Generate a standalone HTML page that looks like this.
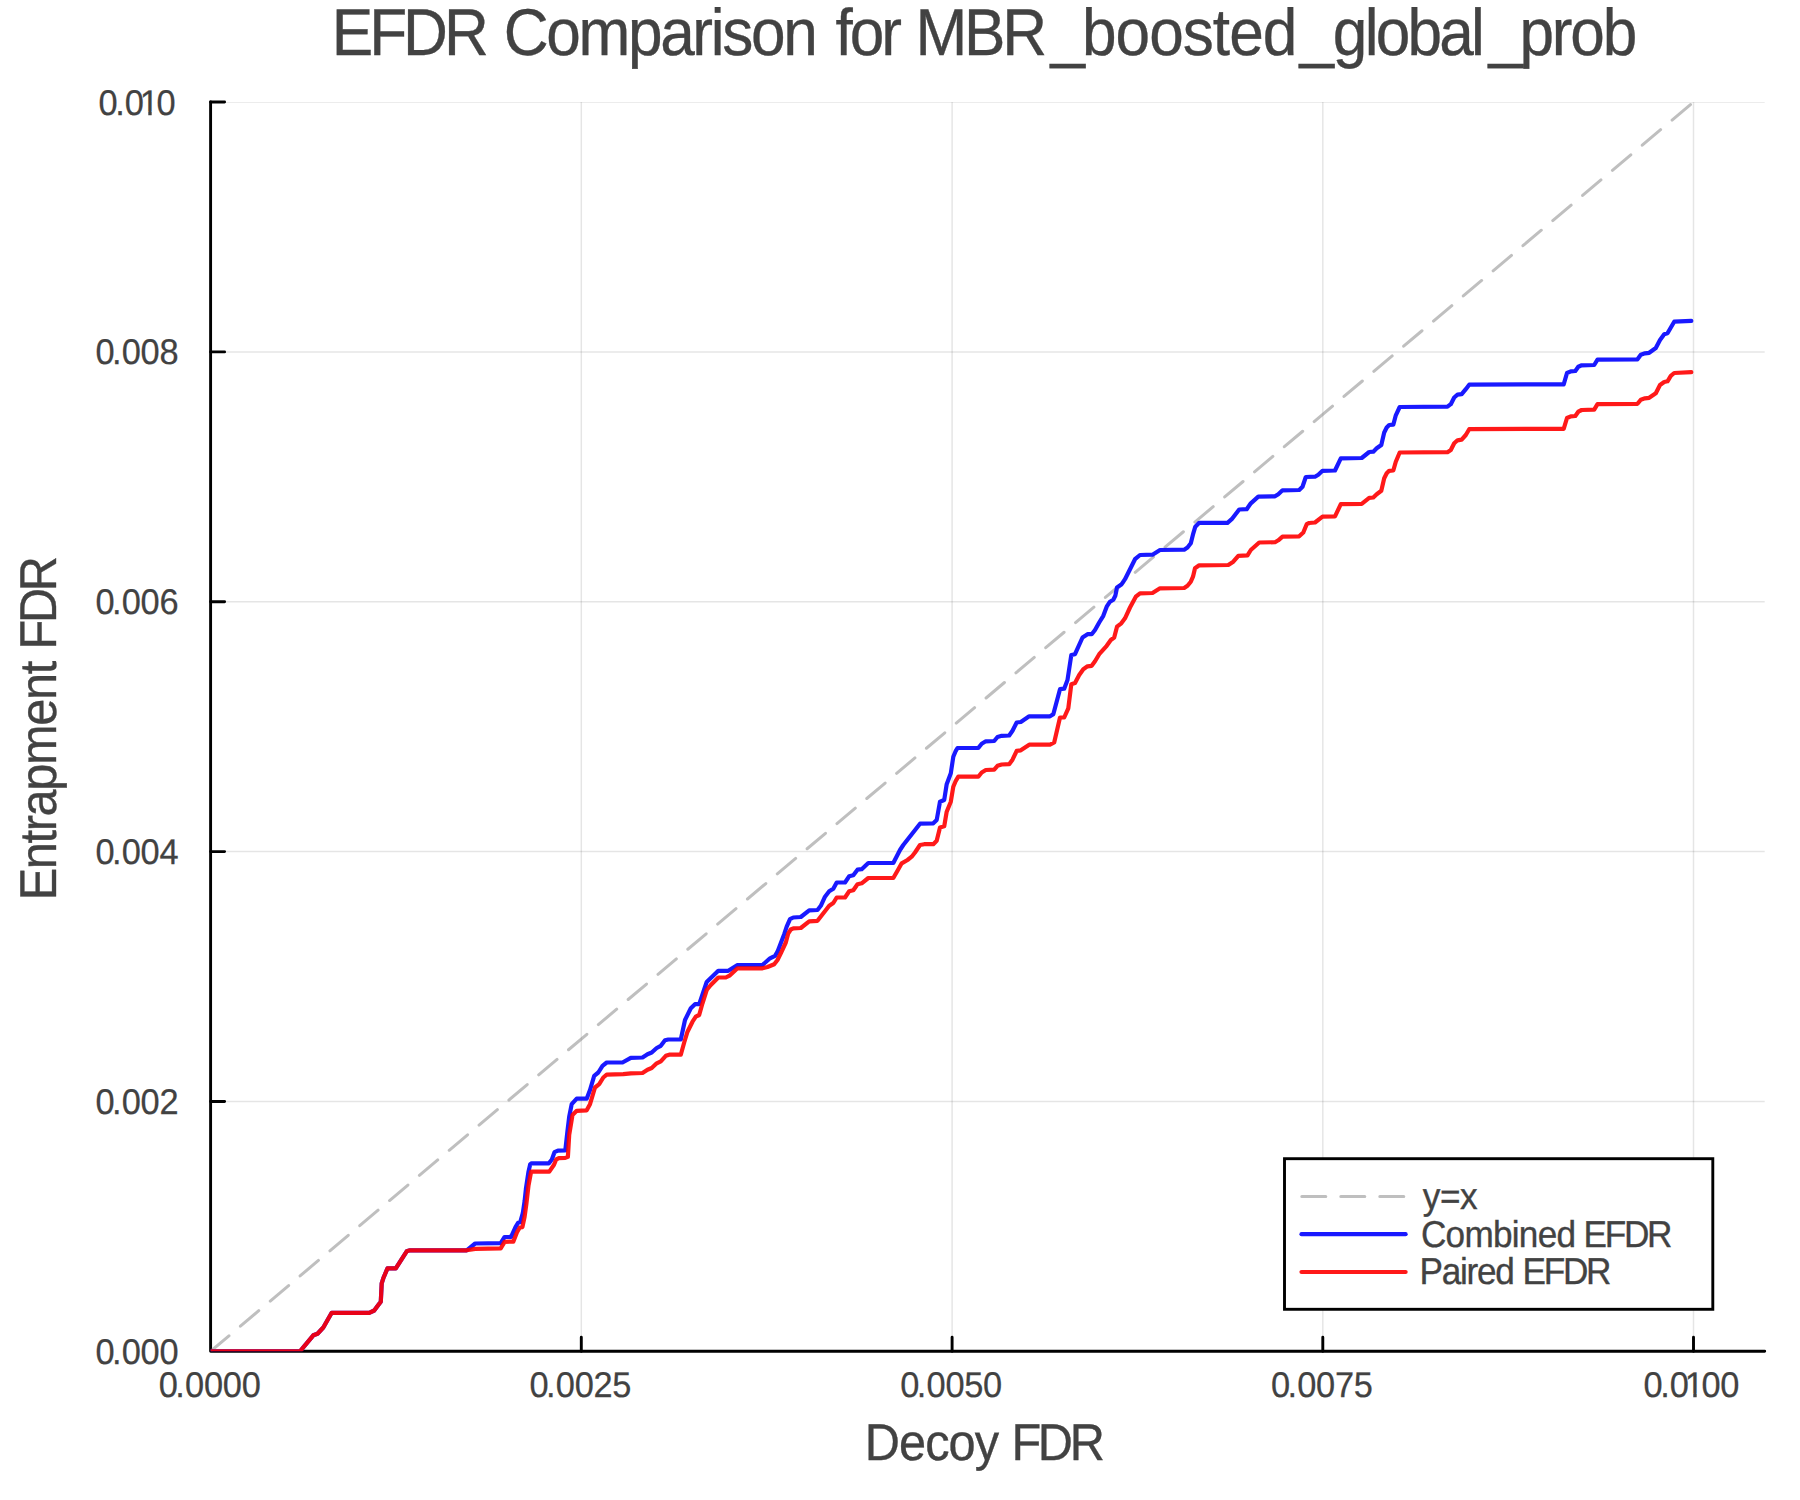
<!DOCTYPE html>
<html><head><meta charset="utf-8"><title>EFDR Comparison</title>
<style>html,body{margin:0;padding:0;background:#fff}svg{display:block}text{font-family:"Liberation Sans",sans-serif;fill:#424242;text-rendering:geometricPrecision}</style></head>
<body>
<svg width="1800" height="1500" viewBox="0 0 1800 1500">
<rect width="1800" height="1500" fill="#fff"/>
<defs><clipPath id="c"><rect x="210.6" y="102.0" width="1554.1" height="1249.2"/></clipPath></defs>
<path d="M210.6,1351.3 H1764.7 M210.6,1351.3 V102.0" stroke="#000" stroke-width="2.9" fill="none" stroke-linecap="round"/>
<g clip-path="url(#c)" fill="none" stroke-linejoin="round">
<path d="M581.3,97.0 V1351.3 M952.1,97.0 V1351.3 M1322.8,97.0 V1351.3 M1693.5,97.0 V1351.3" stroke="#000" stroke-opacity="0.1" stroke-width="1.5"/>
<path d="M210.6,1101.5 H1769.7 M210.6,851.6 H1769.7 M210.6,601.8 H1769.7 M210.6,351.9 H1769.7 M210.6,102.0 H1769.7" stroke="#000" stroke-opacity="0.1" stroke-width="1.5"/>
</g>
<path d="M581.3,1351.3 V1337.3 M952.1,1351.3 V1337.3 M1322.8,1351.3 V1337.3 M1693.5,1351.3 V1337.3 M210.6,1101.5 H224.6 M210.6,851.6 H224.6 M210.6,601.8 H224.6 M210.6,351.9 H224.6 M210.6,102.0 H224.6" stroke="#000" stroke-width="2.9" fill="none" stroke-linecap="round"/>
<g clip-path="url(#c)" fill="none" stroke-linejoin="round" stroke-linecap="round">
<path d="M210.6,1351.3 L1693.5,102.0" stroke="#808080" stroke-opacity="0.5" stroke-width="3" stroke-dasharray="24 15"/>
<path d="M210.8,1351.3 L300.0,1351.3 L313.3,1335.3 L317.5,1333.7 L323.3,1327.5 L331.7,1312.8 L369.2,1312.8 L374.2,1310.5 L378.3,1305.0 L380.8,1301.7 L381.7,1283.3 L383.3,1278.3 L387.5,1268.3 L395.8,1268.3 L406.7,1251.3 L410.0,1250.3 L466.7,1250.3 L475.2,1243.5 L500.7,1243.1 L504.6,1237.0 L511.1,1236.8 L515.5,1227.1 L518.1,1222.7 L520.2,1222.3 L522.8,1213.2 L524.6,1201.1 L525.9,1188.9 L528.5,1171.6 L530.2,1164.2 L531.5,1163.4 L548.8,1163.4 L551.9,1159.5 L554.5,1152.1 L557.9,1150.6 L565.3,1150.4 L567.5,1130.8 L569.2,1116.7 L571.7,1104.2 L576.7,1098.7 L586.7,1098.7 L590.0,1090.0 L594.2,1075.8 L598.3,1072.5 L602.5,1065.8 L606.7,1062.5 L622.5,1062.5 L630.8,1057.8 L642.5,1057.5 L647.5,1054.2 L651.7,1052.5 L656.7,1048.0 L660.8,1045.8 L665.0,1040.3 L668.3,1039.5 L680.8,1039.5 L685.0,1020.0 L690.8,1008.3 L695.0,1004.2 L699.2,1004.2 L706.7,982.0 L718.3,970.8 L728.3,970.8 L737.5,965.0 L762.5,965.0 L770.0,958.3 L775.0,955.8 L777.5,951.7 L784.2,934.2 L786.7,926.7 L790.0,919.2 L793.3,917.5 L800.8,917.0 L809.2,910.3 L817.5,910.0 L820.8,905.8 L825.0,896.7 L829.2,891.3 L833.3,888.7 L836.7,882.5 L845.0,882.5 L849.2,876.3 L853.3,875.3 L857.5,869.7 L861.7,869.2 L868.3,863.0 L893.3,863.0 L900.0,850.0 L903.3,845.0 L920.0,823.7 L933.3,823.3 L936.7,820.0 L940.0,801.7 L944.2,800.0 L946.7,784.2 L950.8,773.3 L953.3,756.7 L955.8,750.8 L957.5,748.0 L978.3,748.0 L981.7,743.7 L985.8,741.3 L994.2,741.0 L997.5,737.0 L1001.7,735.8 L1009.2,735.5 L1012.5,730.8 L1016.7,722.5 L1020.8,722.0 L1029.2,716.3 L1040.0,716.3 L1050.0,716.3 L1053.3,714.2 L1060.0,689.2 L1064.2,688.7 L1067.5,680.0 L1071.3,655.0 L1075.0,654.2 L1082.5,637.5 L1087.5,634.2 L1091.7,634.2 L1095.0,630.0 L1099.2,622.5 L1103.3,615.8 L1106.7,606.7 L1110.0,601.7 L1113.3,599.7 L1115.3,595.8 L1117.0,587.5 L1121.7,584.2 L1125.0,579.2 L1135.0,559.2 L1140.0,555.0 L1152.5,554.7 L1160.0,550.0 L1184.2,549.7 L1187.5,547.5 L1190.8,543.3 L1193.3,533.3 L1195.3,526.7 L1199.2,522.8 L1227.5,522.8 L1231.7,519.2 L1239.2,509.5 L1246.7,509.2 L1250.8,503.3 L1258.3,496.7 L1275.0,496.3 L1278.3,494.2 L1282.5,490.3 L1299.2,490.0 L1302.5,486.7 L1305.8,477.0 L1315.0,476.7 L1318.3,474.7 L1322.5,470.8 L1335.0,470.5 L1340.8,458.3 L1361.7,458.0 L1369.2,452.0 L1373.3,451.7 L1376.7,448.3 L1381.3,445.0 L1384.2,432.5 L1386.7,427.5 L1389.2,425.0 L1393.3,424.7 L1395.8,415.3 L1399.7,407.0 L1447.5,406.7 L1450.8,404.2 L1454.2,397.5 L1457.5,394.7 L1461.7,394.2 L1465.8,389.2 L1469.2,384.7 L1563.7,384.3 L1567.0,373.0 L1570.8,371.3 L1575.3,371.0 L1578.3,366.7 L1581.7,365.3 L1594.2,365.0 L1597.5,359.7 L1637.5,359.3 L1640.8,354.7 L1645.0,353.3 L1649.2,352.8 L1655.8,348.0 L1660.0,340.0 L1664.2,334.2 L1667.5,333.3 L1674.2,321.7 L1691.3,320.8" stroke="#00f" stroke-opacity="0.9" stroke-width="4.2"/>
<path d="M210.8,1351.3 L300.0,1351.3 L313.3,1335.3 L317.5,1333.7 L323.3,1327.5 L331.7,1312.8 L369.2,1312.8 L374.2,1310.5 L378.3,1305.0 L380.8,1301.7 L381.7,1283.3 L383.3,1278.3 L387.5,1268.3 L395.8,1268.3 L406.7,1251.3 L410.0,1250.3 L466.7,1250.3 L475.2,1248.9 L500.7,1248.3 L504.6,1241.8 L513.3,1241.6 L517.2,1231.8 L519.8,1227.5 L522.4,1227.1 L524.6,1216.7 L526.3,1204.5 L528.5,1185.5 L531.1,1171.6 L549.3,1171.6 L554.0,1164.7 L556.2,1159.5 L558.8,1158.2 L565.3,1157.9 L567.9,1156.9 L569.2,1135.0 L572.5,1115.0 L576.7,1110.8 L586.7,1110.3 L590.0,1104.2 L595.0,1087.5 L599.2,1084.2 L603.3,1077.5 L606.7,1074.7 L623.3,1074.2 L630.8,1073.3 L642.5,1073.0 L647.5,1069.7 L651.7,1068.0 L656.7,1063.3 L660.8,1061.3 L665.8,1055.8 L669.2,1054.7 L680.8,1054.7 L684.2,1042.5 L687.5,1031.7 L692.5,1021.7 L695.8,1016.7 L699.2,1015.0 L702.5,1003.3 L706.7,990.0 L710.8,985.0 L718.3,977.5 L725.8,977.5 L730.0,975.3 L737.5,968.3 L762.5,968.3 L767.5,967.0 L774.2,964.2 L777.5,960.0 L780.8,953.3 L785.8,942.5 L788.3,933.3 L790.8,929.5 L793.3,928.3 L800.8,928.0 L809.2,921.3 L817.5,920.8 L829.2,905.8 L833.3,903.0 L836.7,897.5 L845.0,897.5 L849.2,891.3 L853.3,890.3 L857.5,884.2 L861.7,883.3 L868.3,878.0 L893.3,878.0 L897.5,870.8 L901.7,863.3 L907.5,860.0 L911.7,856.7 L915.0,852.5 L920.0,845.0 L924.2,844.2 L933.3,844.2 L936.7,840.8 L940.0,827.5 L944.2,826.3 L946.7,811.7 L950.8,801.7 L953.3,786.7 L955.8,780.8 L958.3,776.7 L978.3,776.7 L981.7,772.5 L985.8,770.0 L994.2,769.7 L997.5,765.8 L1001.7,764.5 L1009.2,764.2 L1012.5,759.7 L1016.7,750.8 L1020.8,750.3 L1029.2,744.7 L1050.0,744.7 L1054.2,742.5 L1060.0,717.5 L1064.2,717.5 L1068.3,708.3 L1071.3,684.2 L1075.0,683.0 L1079.2,675.0 L1083.3,669.2 L1087.5,666.3 L1091.7,665.8 L1095.0,661.3 L1099.2,654.2 L1106.7,645.8 L1110.8,640.0 L1114.2,637.5 L1117.0,626.7 L1121.3,623.3 L1125.0,618.3 L1130.0,607.5 L1135.8,596.7 L1140.0,593.3 L1152.5,593.0 L1160.0,588.3 L1184.2,588.0 L1187.5,585.8 L1190.8,581.7 L1193.0,576.7 L1195.0,568.3 L1199.2,565.3 L1228.3,565.0 L1233.3,561.7 L1238.3,555.8 L1247.5,555.3 L1250.8,550.0 L1259.2,542.5 L1275.0,542.2 L1278.3,540.3 L1282.5,536.7 L1299.2,536.3 L1303.3,532.5 L1306.7,524.2 L1309.2,523.0 L1315.0,522.5 L1322.5,516.7 L1335.0,516.3 L1340.8,504.2 L1361.7,503.8 L1369.2,497.8 L1373.3,497.5 L1376.7,494.2 L1381.3,490.8 L1384.2,478.3 L1386.7,473.3 L1389.2,470.8 L1393.3,470.5 L1395.8,461.7 L1399.7,452.5 L1447.5,452.2 L1450.8,450.0 L1454.2,443.3 L1457.5,440.3 L1461.7,439.7 L1465.8,435.0 L1469.2,429.2 L1563.7,428.8 L1567.0,418.0 L1570.8,416.3 L1575.3,416.0 L1578.3,411.7 L1581.7,410.0 L1594.2,409.7 L1597.5,404.2 L1637.5,403.8 L1640.8,399.7 L1645.0,398.3 L1649.2,397.8 L1655.8,393.3 L1660.0,385.0 L1664.2,382.0 L1667.5,381.3 L1670.8,375.8 L1674.2,373.0 L1691.3,372.2" stroke="#f00" stroke-opacity="0.9" stroke-width="4.2"/>
</g>
<rect x="1284.5" y="1158.7" width="428.3" height="150.6" fill="#fff" stroke="#000" stroke-width="2.9"/>
<g fill="none" stroke-linecap="round">
<path d="M1301.8,1196.4 H1405" stroke="#808080" stroke-opacity="0.5" stroke-width="3" stroke-dasharray="24 15"/>
<path d="M1301.5,1234.2 H1405.6" stroke="#00f" stroke-opacity="0.9" stroke-width="4.2"/>
<path d="M1301.5,1272 H1405.6" stroke="#f00" stroke-opacity="0.9" stroke-width="4.2"/>
</g>
<text transform="scale(0.940,1)" font-size="37.4" stroke="#424242" stroke-width="0.35"><tspan x="1513.70" y="1209.0" letter-spacing="-0.56">y=x</tspan></text>
<text transform="scale(0.940,1)" font-size="37.4" stroke="#424242" stroke-width="0.35"><tspan x="1511.67" y="1247.0" letter-spacing="-0.78">Combined</tspan> <tspan x="1684.69" y="1247.0" letter-spacing="-2.43">EFDR</tspan></text>
<text transform="scale(0.940,1)" font-size="37.4" stroke="#424242" stroke-width="0.35"><tspan x="1510.22" y="1284.0" letter-spacing="-1.35">Paired</tspan> <tspan x="1619.80" y="1284.0" letter-spacing="-2.43">EFDR</tspan></text>
<g><text transform="scale(0.964,1)" x="164.77 181.93 192.00 211.56 231.11 250.66" y="1397" font-size="35.7" stroke="#424242" stroke-width="0.25">0.0000</text></g>
<g><text transform="scale(0.964,1)" x="549.34 566.50 576.57 596.13 615.68 635.23" y="1397" font-size="35.7" stroke="#424242" stroke-width="0.25">0.0025</text></g>
<g><text transform="scale(0.964,1)" x="933.91 951.07 961.14 980.70 1000.25 1019.80" y="1397" font-size="35.7" stroke="#424242" stroke-width="0.25">0.0050</text></g>
<g><text transform="scale(0.964,1)" x="1318.48 1335.64 1345.71 1365.27 1384.82 1404.37" y="1397" font-size="35.7" stroke="#424242" stroke-width="0.25">0.0075</text></g>
<clipPath id="k1"><path clip-rule="evenodd" d="M1633.5,1357.0 h160 v60 h-160 z M1685.77,1393.60 H1693.30 V1398.50 H1685.77 z M1696.67,1393.60 H1703.77 V1398.50 H1696.67 z"/></clipPath>
<g clip-path="url(#k1)"><text transform="scale(0.964,1)" x="1704.92 1722.15 1732.07 1747.68 1765.08 1784.62" y="1397" font-size="35.7" stroke="#424242" stroke-width="0.25">0.0100</text></g>
<g><text transform="scale(0.964,1)" x="99.11 116.26 126.34 145.89 165.45" y="1364" font-size="35.7" stroke="#424242" stroke-width="0.25">0.000</text></g>
<g><text transform="scale(0.964,1)" x="99.11 116.26 126.34 145.89 165.45" y="1114" font-size="35.7" stroke="#424242" stroke-width="0.25">0.002</text></g>
<g><text transform="scale(0.964,1)" x="99.11 116.26 126.34 145.89 165.45" y="864" font-size="35.7" stroke="#424242" stroke-width="0.25">0.004</text></g>
<g><text transform="scale(0.964,1)" x="99.11 116.26 126.34 145.89 165.45" y="614" font-size="35.7" stroke="#424242" stroke-width="0.25">0.006</text></g>
<g><text transform="scale(0.964,1)" x="99.11 116.26 126.34 145.89 165.45" y="364" font-size="35.7" stroke="#424242" stroke-width="0.25">0.008</text></g>
<clipPath id="k2"><path clip-rule="evenodd" d="M88.5,75.0 h160 v60 h-160 z M140.77,111.60 H148.30 V116.50 H140.77 z M151.67,111.60 H158.77 V116.50 H151.67 z"/></clipPath>
<g clip-path="url(#k2)"><text transform="scale(0.964,1)" x="102.22 119.45 129.37 144.99 162.39" y="115" font-size="35.7" stroke="#424242" stroke-width="0.25">0.010</text></g>
<text transform="scale(0.940,1)" font-size="66.1" stroke="#424242" stroke-width="0.35"><tspan x="352.97" y="55.0" letter-spacing="-4.29">EFDR</tspan> <tspan x="535.85" y="55.0" letter-spacing="-2.47">Comparison</tspan> <tspan x="888.96" y="55.0" letter-spacing="-3.34">for</tspan> <tspan x="973.82" y="55.0" letter-spacing="-3.34">MBR</tspan><tspan x="1117.49" y="55.0" letter-spacing="0.00">_</tspan><tspan x="1151.12" y="55.0" letter-spacing="-1.04">boosted</tspan><tspan x="1382.38" y="55.0" letter-spacing="0.00">_</tspan><tspan x="1417.95" y="55.0" letter-spacing="-2.95">global</tspan><tspan x="1583.45" y="55.0" letter-spacing="0.00">_</tspan><tspan x="1616.43" y="55.0" letter-spacing="-2.29">prob</tspan></text>
<text transform="scale(0.940,1)" font-size="51.8" stroke="#424242" stroke-width="0.35"><tspan x="919.88" y="1460.0" letter-spacing="-0.94">Decoy</tspan> <tspan x="1076.05" y="1460.0" letter-spacing="-3.59">FDR</tspan></text>
<text transform="translate(56.4,896.8) rotate(-90) scale(0.940,1)" font-size="51.8" stroke="#424242" stroke-width="0.35"><tspan x="-3.73" y="0.0" letter-spacing="-1.44">Entrapment</tspan> <tspan x="263.07" y="0.0" letter-spacing="-3.54">FDR</tspan></text>
</svg></body></html>
